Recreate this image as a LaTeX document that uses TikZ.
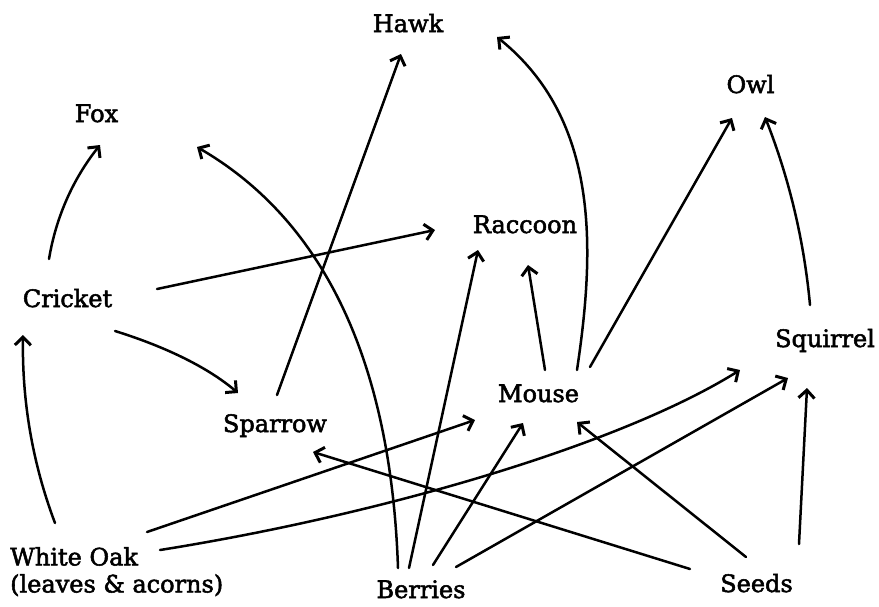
\documentclass[tikz,border=0pt]{standalone}
\usepackage{fontspec}
\setmainfont{DejaVu Serif}[FakeBold=2.2]
\usetikzlibrary{arrows.meta}
\tikzset{
  lbl/.style={inner sep=0pt, font=\fontsize{24}{27}\selectfont, anchor=base},
  eat/.style={line width=2.5pt, line cap=round, -{Straight Barb[length=8pt,width=16pt,line width=3pt]}}
}
\begin{document}
\begin{tikzpicture}[x=1pt,y=-1pt]
\useasboundingbox[fill=white] (0,0) rectangle (879,606);
% labels
\node[lbl] (hawk) at (408,32) {Hawk};
\node[lbl] (fox) at (96.5,122) {Fox};
\node[lbl] (owl) at (750.5,93) {Owl};
\node[lbl] (raccoon) at (525,233) {Raccoon};
\node[lbl] (cricket) at (67.5,307) {Cricket};
\node[lbl] (squirrel) at (825,347) {Squirrel};
\node[lbl] (mouse) at (538.5,402) {Mouse};
\node[lbl] (sparrow) at (275,432) {Sparrow};
\node[lbl, anchor=north west, align=left] (oak) at (10,547) {White Oak\\(leaves \& acorns)};
\node[lbl] (berries) at (421,598) {Berries};
\node[lbl] (seeds) at (756.5,592) {Seeds};
% connectors
\draw[eat] ([shift={(-18.5,-48)}]cricket.base) .. controls +(7,-42) and +(-27,34) .. ([shift={(3.5,23)}]fox.base);
\draw[eat] ([shift={(89.5,-18)}]cricket.base) -- ([shift={(-90,-3)}]raccoon.base);
\draw[eat] ([shift={(47.5,24)}]cricket.base) .. controls +(45,14) and +(-33,-28) .. ([shift={(-37,-39)}]sparrow.base);
\draw[eat] ([shift={(2,-37)}]sparrow.base) -- ([shift={(-7,22)}]hawk.base);
\draw[eat] ([shift={(38.5,-32)}]mouse.base) .. controls +(18,-120) and +(103,83) .. ([shift={(89,5)}]hawk.base);
\draw[eat] ([shift={(6.5,-32)}]mouse.base) -- ([shift={(3,32)}]raccoon.base);
\draw[eat] ([shift={(51.5,-35)}]mouse.base) -- ([shift={(-18.5,25)}]owl.base);
\draw[eat] ([shift={(-15,-42)}]squirrel.base) .. controls +(-6,-65) and +(24,61) .. ([shift={(14.5,24)}]owl.base);
\draw[eat] ([shift={(-23,-30)}]berries.base) .. controls +(-6,-178) and +(143,83) .. ([shift={(100.5,25)}]fox.base);
\draw[eat] ([shift={(-12,-30)}]berries.base) -- ([shift={(-47,17)}]raccoon.base);
\draw[eat] ([shift={(12,-33)}]berries.base) -- ([shift={(-15.5,21)}]mouse.base);
\draw[eat] ([shift={(35,-31)}]berries.base) -- ([shift={(-37,31)}]squirrel.base);
\draw[eat] ([shift={(45,-24)}]oak.north west) .. controls +(-23,-61) and +(-1,65) .. ([shift={(-44.5,28)}]cricket.base);
\draw[eat] ([shift={(137,-15)}]oak.north west) -- ([shift={(-63.5,18)}]mouse.base);
\draw[eat] ([shift={(150,3)}]oak.north west) .. controls +(220,-35) and +(-120,75) .. ([shift={(-85,23)}]squirrel.base);
\draw[eat] ([shift={(-66.5,-23)}]seeds.base) -- ([shift={(38,20)}]sparrow.base);
\draw[eat] ([shift={(-10.5,-35)}]seeds.base) -- ([shift={(38.5,20)}]mouse.base);
\draw[eat] ([shift={(42.5,-48)}]seeds.base) -- ([shift={(-18,41)}]squirrel.base);
\end{tikzpicture}
\end{document}
